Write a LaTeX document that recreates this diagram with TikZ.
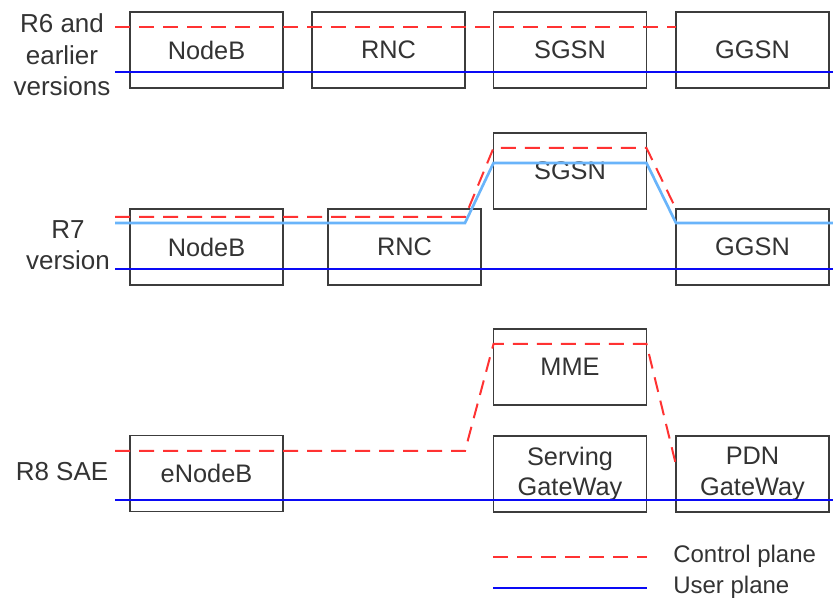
\documentclass[tikz,border=0pt]{standalone}
\usepackage{fontspec}
\setmainfont{Liberation Sans}
\usetikzlibrary{positioning}

\definecolor{ctrlred}{RGB}{255,50,50}
\definecolor{userblue}{RGB}{10,10,245}
\definecolor{lightblue}{RGB}{105,180,250}
\definecolor{boxgray}{RGB}{60,60,60}

\tikzset{
  netbox/.style={draw=boxgray, line width=1.3pt, fill=white, minimum width=114.75pt, minimum height=57pt, inner sep=0pt, outer sep=0pt, align=center, text=black!80, font=\fontsize{19}{23}\selectfont},
  rowlabel/.style={align=center, inner sep=0pt, text=black!80, font=\fontsize{19.5}{23.5}\selectfont},
  ctrlplane/.style={draw=ctrlred, line width=1.5pt, dash pattern={on 11.25pt off 6.75pt}},
  userplane/.style={draw=userblue, line width=2.2pt},
  userplanesep/.style={draw=lightblue, line width=2pt},
  legendtext/.style={anchor=west, inner sep=0pt, text=black!80, font=\fontsize{18}{21}\selectfont}
}

\begin{document}
\begin{tikzpicture}[x=0.75pt,y=0.75pt,yscale=-1,xscale=1]
\useasboundingbox (0,0) rectangle (833,598);

%Shape: Rectangle -- R6 row
\node [netbox] (nbA) at (206.5,50) {NodeB};
\node [netbox] (rncA) at (388.5,50) {RNC};
\node [netbox] (sgsnA) at (570,50) {SGSN};
\node [netbox] (ggsnA) at (752.5,50) {GGSN};
%Shape: Rectangle -- R7 row
\node [netbox] (nbB) at (206.5,247) {NodeB};
\node [netbox] (rncB) at (404.5,247) {RNC};
\node [netbox] (sgsnB) at (570,171) {SGSN};
\node [netbox] (ggsnB) at (752.5,247) {GGSN};
%Shape: Rectangle -- R8 row
\node [netbox] (enb) at (206.5,473.5) {eNodeB};
\node [netbox] (mme) at (570,367) {MME};
\node [netbox] (sgw) at (570,474) {Serving\\GateWay};
\node [netbox] (pgw) at (752.5,474) {PDN\\GateWay};

% Text Node
\node [rowlabel] (lblA) at (62,55) {R6 and\\earlier\\versions};
% Text Node
\node [rowlabel] (lblB) at (68,245) {R7\\version};
% Text Node
\node [rowlabel] (lblC) at (62,472) {R8 SAE};

%Straight Lines -- end points
\coordinate (ctrlA) at (115,27);
\coordinate (userA) at (115,72);
\coordinate (userAend) at (833,72);
\coordinate (ctrlB) at (115,217);
\coordinate (userB) at (115,223);
\coordinate (userBend) at (833,223);
\coordinate (blueB) at (115,269);
\coordinate (blueBend) at (833,269);
\coordinate (ctrlC) at (115,451);
\coordinate (userC) at (115,500);
\coordinate (userCend) at (833,500);

%Lines: R6
\draw [ctrlplane] (ctrlA) -- (ggsnA.west |- ctrlA);
\draw [userplane] (userA) -- (userAend);
%Lines: R7
\draw [ctrlplane] (ctrlB) -- (465,217) -- (sgsnB.west |- 0,148) -- (sgsnB.east |- 0,148) -- (ggsnB.north west);
\draw [userplanesep] (userB) -- (465,223) -- (sgsnB.west |- 0,163) -- (sgsnB.east |- 0,163) -- (ggsnB.west |- userBend) -- (userBend);
\draw [userplane] (blueB) -- (blueBend);
%Lines: R8
\draw [ctrlplane] (ctrlC) -- (465,451) -- (mme.west |- 0,344) -- (mme.east |- 0,344) -- (pgw.west |- 0,465);
\draw [userplane] (userC) -- (userCend);

%Legend
\coordinate (legA) at (493,557);
\coordinate (legAend) at (647,557);
\coordinate (legB) at (493,588);
\coordinate (legBend) at (647,588);
\draw [ctrlplane] (legA) -- (legAend);
\draw [userplane] (legB) -- (legBend);
% Text Node
\node [legendtext] (legCtrl) at (673,556) {Control plane};
% Text Node
\node [legendtext] (legUser) at (673,587) {User plane};

\end{tikzpicture}
\end{document}
